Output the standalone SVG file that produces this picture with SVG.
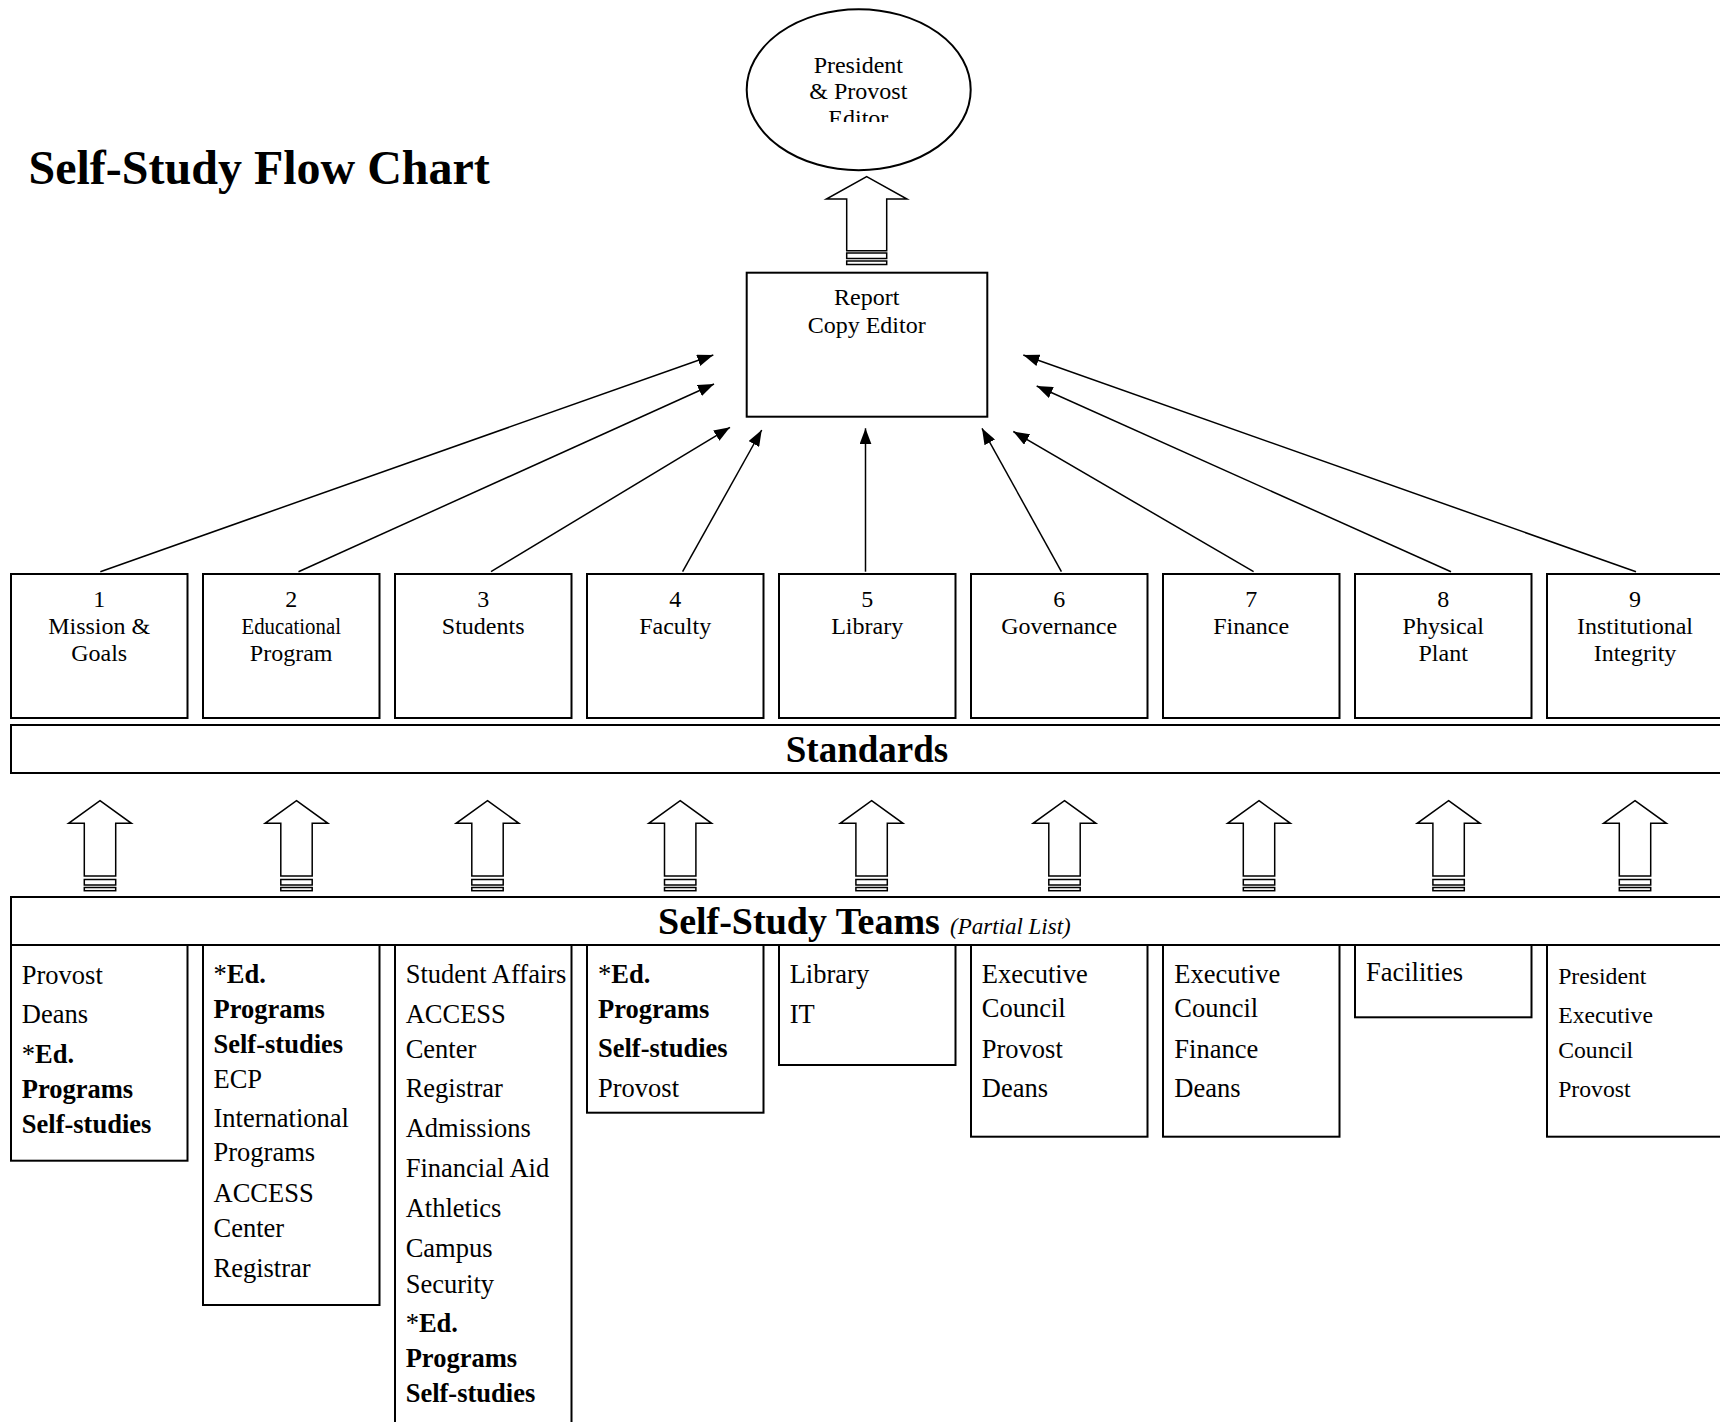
<svg xmlns="http://www.w3.org/2000/svg" width="1720" height="1422" viewBox="0 0 1720 1422">
<style>
text{font-family:"Liberation Serif","Times New Roman",serif;fill:#000}
.box{fill:#fff;stroke:#000;stroke-width:2}
.lbl{font-size:24px;text-anchor:middle}
.tm{font-size:26.5px}
.tm9{font-size:23.7px}
.b{font-weight:bold}
.conn{stroke:#000;stroke-width:1.5;fill:none;marker-end:url(#ah)}
.blk{fill:#fff;stroke:#000;stroke-width:1.5}
</style>
<defs>
<marker id="ah" markerUnits="userSpaceOnUse" markerWidth="16" markerHeight="12" viewBox="0 0 16 12" refX="16" refY="6" orient="auto">
<path d="M0,0 L16,6 L0,12 Z" fill="#000"/>
</marker>
<g id="sarrow">
<path class="blk" d="M0,0 L31.4,22.6 L15.7,22.6 L15.7,75.3 L-15.7,75.3 L-15.7,22.6 L-31.4,22.6 Z"/>
<rect class="blk" x="-15.7" y="78.8" width="31.4" height="5.5"/>
<rect class="blk" x="-15.7" y="86.8" width="31.4" height="3.2"/>
</g>
<clipPath id="elclip"><rect x="750" y="30" width="220" height="92"/></clipPath>
</defs>
<rect width="1720" height="1422" fill="#fff"/>

<text x="28.5" y="183.5" font-size="48" class="b">Self-Study Flow Chart</text>

<g id="president">
<ellipse class="box" cx="858.7" cy="89.7" rx="112" ry="80.5"/>
<g clip-path="url(#elclip)">
<text class="lbl" x="858.3" y="72.7">President</text>
<text class="lbl" x="858.3" y="99.3">&amp; Provost</text>
<text class="lbl" x="858.3" y="126">Editor</text>
</g>
</g>

<g id="report">
<rect class="box" x="746.7" y="272.7" width="240.6" height="144"/>
<text class="lbl" x="866.7" y="305">Report</text>
<text class="lbl" x="866.7" y="332.7">Copy Editor</text>
</g>

<g id="std1"><rect class="box" x="11" y="574" width="176.5" height="144"/>
<text class="lbl" x="99.2" y="607.3">1</text><text class="lbl" x="99.2" y="634">Mission &amp;</text><text class="lbl" x="99.2" y="660.7">Goals</text></g>
<g id="std2"><rect class="box" x="203" y="574" width="176.5" height="144"/>
<text class="lbl" x="291.2" y="607.3">2</text><text class="lbl" x="291.2" y="634" textLength="99.5" lengthAdjust="spacingAndGlyphs">Educational</text><text class="lbl" x="291.2" y="660.7">Program</text></g>
<g id="std3"><rect class="box" x="395" y="574" width="176.5" height="144"/>
<text class="lbl" x="483.2" y="607.3">3</text><text class="lbl" x="483.2" y="634">Students</text></g>
<g id="std4"><rect class="box" x="587" y="574" width="176.5" height="144"/>
<text class="lbl" x="675.2" y="607.3">4</text><text class="lbl" x="675.2" y="634">Faculty</text></g>
<g id="std5"><rect class="box" x="779" y="574" width="176.5" height="144"/>
<text class="lbl" x="867.2" y="607.3">5</text><text class="lbl" x="867.2" y="634">Library</text></g>
<g id="std6"><rect class="box" x="971" y="574" width="176.5" height="144"/>
<text class="lbl" x="1059.2" y="607.3">6</text><text class="lbl" x="1059.2" y="634">Governance</text></g>
<g id="std7"><rect class="box" x="1163" y="574" width="176.5" height="144"/>
<text class="lbl" x="1251.2" y="607.3">7</text><text class="lbl" x="1251.2" y="634">Finance</text></g>
<g id="std8"><rect class="box" x="1355" y="574" width="176.5" height="144"/>
<text class="lbl" x="1443.2" y="607.3">8</text><text class="lbl" x="1443.2" y="634">Physical</text><text class="lbl" x="1443.2" y="660.7">Plant</text></g>
<g id="std9"><rect class="box" x="1547" y="574" width="176.5" height="144"/>
<text class="lbl" x="1635" y="607.3">9</text><text class="lbl" x="1635" y="634">Institutional</text><text class="lbl" x="1635" y="660.7">Integrity</text></g>

<g id="standards">
<rect class="box" x="11" y="725" width="1720" height="48"/>
<text x="867" y="762" font-size="37" class="b" text-anchor="middle">Standards</text>
</g>

<g id="teams">
<rect class="box" x="11" y="897" width="1720" height="48"/>
<text x="658" y="934" font-size="38" class="b">Self-Study Teams</text>
<text x="950" y="934" font-size="23" font-style="italic">(Partial List)</text>
</g>

<g id="team1"><rect class="box" x="11" y="945" width="176.5" height="215.7"/>
<text class="tm" x="21.8" y="984">Provost</text>
<text class="tm" x="21.8" y="1023.3">Deans</text>
<text class="tm" x="21.8" y="1062.8">*<tspan class="b">Ed.</tspan></text>
<text class="tm b" x="21.8" y="1097.8">Programs</text>
<text class="tm b" x="21.8" y="1132.5">Self-studies</text></g>

<g id="team2"><rect class="box" x="203" y="945" width="176.5" height="360"/>
<text class="tm" x="213.5" y="983.3">*<tspan class="b">Ed.</tspan></text>
<text class="tm b" x="213.5" y="1017.5">Programs</text>
<text class="tm b" x="213.5" y="1052.5">Self-studies</text>
<text class="tm" x="213.5" y="1087.5">ECP</text>
<text class="tm" x="213.5" y="1126.7">International</text>
<text class="tm" x="213.5" y="1161">Programs</text>
<text class="tm" x="213.5" y="1201.5">ACCESS</text>
<text class="tm" x="213.5" y="1236.5">Center</text>
<text class="tm" x="213.5" y="1276.5">Registrar</text></g>

<g id="team3"><rect class="box" x="395" y="945" width="176.5" height="500"/>
<text class="tm" x="405.7" y="983.3">Student Affairs</text>
<text class="tm" x="405.7" y="1022.5">ACCESS</text>
<text class="tm" x="405.7" y="1058">Center</text>
<text class="tm" x="405.7" y="1097">Registrar</text>
<text class="tm" x="405.7" y="1137">Admissions</text>
<text class="tm" x="405.7" y="1177">Financial Aid</text>
<text class="tm" x="405.7" y="1217">Athletics</text>
<text class="tm" x="405.7" y="1257">Campus</text>
<text class="tm" x="405.7" y="1292.7">Security</text>
<text class="tm" x="405.7" y="1332">*<tspan class="b">Ed.</tspan></text>
<text class="tm b" x="405.7" y="1367">Programs</text>
<text class="tm b" x="405.7" y="1401.7">Self-studies</text></g>

<g id="team4"><rect class="box" x="587" y="945" width="176.5" height="167.7"/>
<text class="tm" x="598" y="983.3">*<tspan class="b">Ed.</tspan></text>
<text class="tm b" x="598" y="1017.5">Programs</text>
<text class="tm b" x="598" y="1056.5">Self-studies</text>
<text class="tm" x="598" y="1097">Provost</text></g>

<g id="team5"><rect class="box" x="779" y="945" width="176.5" height="120"/>
<text class="tm" x="789.7" y="983.3">Library</text>
<text class="tm" x="789.7" y="1022.7">IT</text></g>

<g id="team6"><rect class="box" x="971" y="945" width="176.5" height="191.7"/>
<text class="tm" x="981.8" y="983.3">Executive</text>
<text class="tm" x="981.8" y="1017.3">Council</text>
<text class="tm" x="981.8" y="1058.3">Provost</text>
<text class="tm" x="981.8" y="1096.7">Deans</text></g>

<g id="team7"><rect class="box" x="1163" y="945" width="176.5" height="191.7"/>
<text class="tm" x="1174.3" y="983.3">Executive</text>
<text class="tm" x="1174.3" y="1017.3">Council</text>
<text class="tm" x="1174.3" y="1058.3">Finance</text>
<text class="tm" x="1174.3" y="1096.7">Deans</text></g>

<g id="team8"><rect class="box" x="1355" y="945" width="176.5" height="72.3"/>
<text class="tm" x="1366" y="980.7">Facilities</text></g>

<g id="team9"><rect class="box" x="1547" y="945" width="176.5" height="191.7"/>
<text class="tm9" x="1558.2" y="984">President</text>
<text class="tm9" x="1558.2" y="1022.7">Executive</text>
<text class="tm9" x="1558.2" y="1058.3">Council</text>
<text class="tm9" x="1558.2" y="1096.7">Provost</text></g>

<g id="connectors">
<line class="conn" x1="100.3" y1="571.7" x2="713.3" y2="355"/>
<line class="conn" x1="298.5" y1="571.7" x2="714" y2="384"/>
<line class="conn" x1="491" y1="571.7" x2="730" y2="427.3"/>
<line class="conn" x1="682.6" y1="571.7" x2="761.7" y2="430"/>
<line class="conn" x1="865.5" y1="571.7" x2="865.5" y2="428.3"/>
<line class="conn" x1="1061.4" y1="571.7" x2="982" y2="428.3"/>
<line class="conn" x1="1253.6" y1="571.7" x2="1013.3" y2="431.5"/>
<line class="conn" x1="1451" y1="571.7" x2="1036.7" y2="386"/>
<line class="conn" x1="1636" y1="571.7" x2="1023.3" y2="355"/>
<g id="toparrow">
<path class="blk" d="M866.7,176.7 L907,199 L886.7,199 L886.7,250.7 L846.7,250.7 L846.7,199 L826.4,199 Z"/>
<rect class="blk" x="846.7" y="253" width="40" height="5.5"/>
<rect class="blk" x="846.7" y="261" width="40" height="3.5"/>
</g>
<use href="#sarrow" x="100" y="800.7"/>
<use href="#sarrow" x="296.5" y="800.7"/>
<use href="#sarrow" x="487.5" y="800.7"/>
<use href="#sarrow" x="680.2" y="800.7"/>
<use href="#sarrow" x="871.6" y="800.7"/>
<use href="#sarrow" x="1064.5" y="800.7"/>
<use href="#sarrow" x="1259" y="800.7"/>
<use href="#sarrow" x="1448.6" y="800.7"/>
<use href="#sarrow" x="1635" y="800.7"/>
</g>
</svg>
